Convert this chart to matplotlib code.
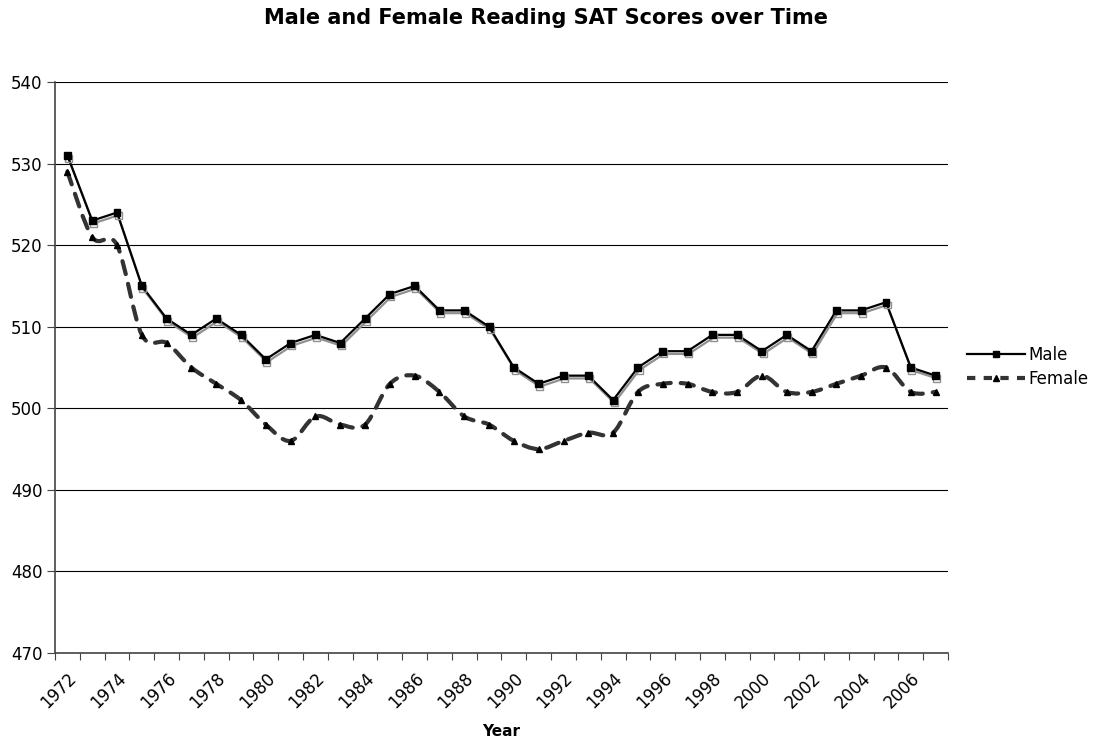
import numpy as np
import matplotlib
matplotlib.use("Agg")
import matplotlib.pyplot as plt
from matplotlib.path import Path
from matplotlib.patches import PathPatch
import matplotlib.patheffects as pe
from matplotlib.lines import Line2D

years = list(range(1972, 2008))
male = [531, 523, 524, 515, 511, 509, 511, 509, 506, 508, 509, 508, 511, 514, 515,
        512, 512, 510, 505, 503, 504, 504, 501, 505, 507, 507, 509, 509, 507, 509,
        507, 512, 512, 513, 505, 504]
female = [529, 521, 520, 509, 508, 505, 503, 501, 498, 496, 499, 498, 498, 503, 504,
          502, 499, 498, 496, 495, 496, 497, 497, 502, 503, 503, 502, 502, 504, 502,
          502, 503, 504, 505, 502, 502]
title = "Male and Female Reading SAT Scores over Time"
xlabel = "Year"

plt.rcParams['font.family'] = ['DejaVu Sans']
fig = plt.figure(figsize=(10.99, 7.45), dpi=100)
ax = fig.add_axes([55/1099, 1-653/745, (948-55)/1099, (653-82)/745])

x = np.arange(len(years))

# Male line with shadow
ax.plot(x, male, color='black', lw=1.6, marker='s', ms=5, zorder=4,
        path_effects=[pe.SimpleLineShadow(offset=(0.8, -2), shadow_color='#909090', alpha=1),
                      pe.Normal()])

# Female smoothed dashed line (Catmull-Rom -> Bezier)
def smooth_path(xs, ys, t=1/6):
    xs = np.asarray(xs, float); ys = np.asarray(ys, float)
    n = len(xs)
    verts = [(xs[0], ys[0])]
    codes = [Path.MOVETO]
    for i in range(n - 1):
        p0 = np.array([xs[max(i-1, 0)], ys[max(i-1, 0)]])
        p1 = np.array([xs[i], ys[i]])
        p2 = np.array([xs[i+1], ys[i+1]])
        p3 = np.array([xs[min(i+2, n-1)], ys[min(i+2, n-1)]])
        c1 = p1 + (p2 - p0) * t
        c2 = p2 - (p3 - p1) * t
        verts += [tuple(c1), tuple(c2), tuple(p2)]
        codes += [Path.CURVE4] * 3
    return Path(verts, codes)

patch = PathPatch(smooth_path(x, female), fill=False, edgecolor='#333333', lw=3,
                  linestyle=(0, (3.2, 2.4)), zorder=3, capstyle='round')
ax.add_patch(patch)
ax.plot(x, female, linestyle='none', marker='^', color='black', ms=5, zorder=3.5)

ax.set_xlim(-0.5, len(years) - 0.5)
ax.set_ylim(470, 540)
ax.set_yticks(range(470, 541, 10))
ax.yaxis.grid(True, color='black', lw=0.8)
ax.set_axisbelow(True)

ax.set_xticks(np.arange(-0.5, len(years), 1))
ax.set_xticklabels([])
ax.set_xticks(x[::2], minor=True)
ax.set_xticklabels([str(y) for y in years[::2]], minor=True, rotation=45,
                   ha='right', va='top', rotation_mode='anchor', fontsize=12)
ax.tick_params(axis='x', which='minor', length=0, pad=12)
ax.tick_params(axis='x', which='major', length=5, direction='out', color='#444444')
ax.tick_params(axis='y', length=6, direction='out', labelsize=12, color='#444444', pad=3)

for s in ['top', 'right']:
    ax.spines[s].set_visible(False)
for s in ['left', 'bottom']:
    ax.spines[s].set_color('#444444')
    ax.spines[s].set_linewidth(1.2)

fig.text(546/1099, 1 - 18/745, title, ha='center', va='center', fontsize=15, fontweight='bold')
fig.text(501/1099, 1 - 731/745, xlabel, ha='center', va='center', fontsize=11, fontweight='bold')

handles = [Line2D([], [], color='black', lw=1.6, marker='s', ms=5),
           Line2D([], [], color='#333333', lw=3, linestyle=(0, (2, 2)), marker='^',
                  ms=5, mfc='black', mec='black')]
fig.legend(handles, ['Male', 'Female'], loc='center left',
           bbox_to_anchor=(952/1099, 1 - 367/745), frameon=False, fontsize=12,
           handlelength=3.5, handletextpad=0.2, labelspacing=0.35)

fig.savefig('out.png', dpi=100)
